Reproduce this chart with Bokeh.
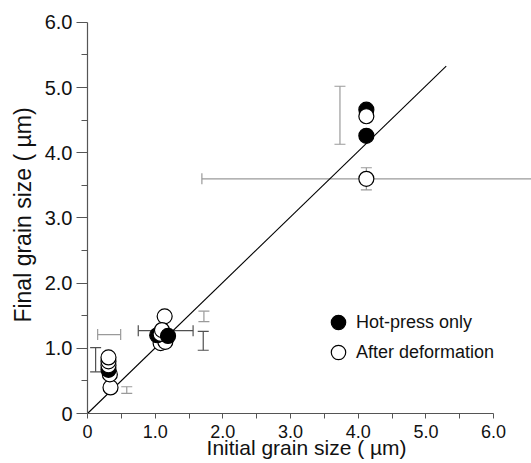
from bokeh.plotting import figure
from bokeh.models import (ColumnDataSource, Whisker, TeeHead, FixedTicker,
                          Legend, LegendItem, Range1d)
from bokeh.embed import file_html
from bokeh.resources import INLINE

# ---- data ----
# points, listed in drawing order (later ones cover earlier ones)
sample_x = [0.34, 0.33, 0.31, 0.31, 0.31, 0.31,
            1.14, 1.08, 1.15, 1.03, 1.08, 1.10, 1.19,
            4.12, 4.12, 4.12, 4.12]
sample_y = [0.40, 0.60, 0.67, 0.74, 0.80, 0.86,
            1.49, 1.08, 1.10, 1.20, 1.22, 1.28, 1.19,
            4.66, 4.56, 4.26, 3.60]
sample_kind = ["def", "def", "hot", "def", "def", "def",
               "def", "def", "def", "hot", "def", "def", "hot",
               "hot", "def", "hot", "def"]

fit_x = [0.0, 5.30]
fit_y = [0.0, 5.33]

# vertical error bars
vbar_x = [0.12, 0.58, 1.72, 1.71, 3.73, 4.12]
vbar_lo = [0.64, 0.31, 1.41, 0.97, 4.13, 3.43]
vbar_hi = [1.01, 0.41, 1.57, 1.26, 5.02, 3.77]
vbar_tone = ["dark", "gray", "gray", "dark", "gray", "gray"]

# horizontal error bars
hbar_y = [1.21, 1.27, 3.60]
hbar_lo = [0.15, 0.75, 1.69]
hbar_hi = [0.49, 1.56, 7.00]
hbar_tone = ["gray", "dark", "gray"]

x_ticks = [0, 1, 2, 3, 4, 5, 6]
x_tick_labels = ["0", "1.0", "2.0", "3.0", "4.0", "5.0", "6.0"]
y_ticks = [0, 1, 2, 3, 4, 5, 6]
y_tick_labels = ["0", "1.0", "2.0", "3.0", "4.0", "5.0", "6.0"]
minor = [0.5, 1.5, 2.5, 3.5, 4.5, 5.5]

legend_labels = ["Hot-press only", "After deformation"]

FONT = "Liberation Sans"
TONES = {"dark": "#505050", "gray": "#9a9a9a"}

p = figure(width=531, height=463, output_backend="svg", toolbar_location=None,
           x_range=Range1d(0, 6.56), y_range=Range1d(0, 6.09),
           min_border_left=87, min_border_right=0, min_border_top=16,
           min_border_bottom=50)
p.outline_line_color = None
p.xgrid.visible = False
p.ygrid.visible = False
p.background_fill_color = "white"
p.border_fill_color = "white"

# fit line
p.line(fit_x, fit_y, line_color="black", line_width=1.1)

# error bars
for tone, col in TONES.items():
    idx = [i for i, t in enumerate(vbar_tone) if t == tone]
    if idx:
        src = ColumnDataSource(dict(base=[vbar_x[i] for i in idx],
                                    lower=[vbar_lo[i] for i in idx],
                                    upper=[vbar_hi[i] for i in idx]))
        p.add_layout(Whisker(source=src, base="base", lower="lower", upper="upper",
                             dimension="height", line_color=col, line_width=1.2,
                             lower_head=TeeHead(size=11, line_color=col, line_width=1.2),
                             upper_head=TeeHead(size=11, line_color=col, line_width=1.2)))
    idx = [i for i, t in enumerate(hbar_tone) if t == tone]
    if idx:
        src = ColumnDataSource(dict(base=[hbar_y[i] for i in idx],
                                    lower=[hbar_lo[i] for i in idx],
                                    upper=[hbar_hi[i] for i in idx]))
        p.add_layout(Whisker(source=src, base="base", lower="lower", upper="upper",
                             dimension="width", line_color=col, line_width=1.2,
                             lower_head=TeeHead(size=11, line_color=col, line_width=1.2),
                             upper_head=TeeHead(size=11, line_color=col, line_width=1.2)))

# points
fills = ["black" if k == "hot" else "white" for k in sample_kind]
pts = ColumnDataSource(dict(x=sample_x, y=sample_y, fill=fills))
r = p.scatter("x", "y", source=pts, size=15, fill_color="fill",
              line_color="black", line_width=1.2)

# two single-entry legends (so the rows can sit close together)
for label, kind, vy in ((legend_labels[0], "hot", 72), (legend_labels[1], "def", 42)):
    lg = Legend(items=[LegendItem(label=label, renderers=[r],
                                  index=sample_kind.index(kind))],
                location=(233, vy), glyph_width=36, glyph_height=38,
                label_standoff=0, padding=0, margin=0, border_line_color=None,
                background_fill_alpha=0, label_text_font=FONT,
                label_text_font_size="18px", label_text_color="#111111")
    p.add_layout(lg)

# axes
for ax, ticks, labels in ((p.xaxis[0], x_ticks, x_tick_labels),
                          (p.yaxis[0], y_ticks, y_tick_labels)):
    ax.ticker = FixedTicker(ticks=ticks, minor_ticks=minor)
    ax.major_label_overrides = {t: l for t, l in zip(ticks, labels)}
    ax.bounds = (0, 6)
    ax.axis_line_color = "#555555"
    ax.axis_line_width = 1.2
    ax.major_tick_line_color = "#555555"
    ax.minor_tick_line_color = "#555555"
    ax.major_tick_in = 0
    ax.minor_tick_in = 0
    ax.major_label_text_font = FONT
    ax.major_label_text_color = "#111111"
    ax.axis_label_text_font = FONT
    ax.axis_label_text_font_style = "normal"
    ax.axis_label_text_color = "#111111"

p.xaxis.major_tick_out = 5
p.xaxis.minor_tick_out = 5
p.xaxis.major_label_text_font_size = "18px"
p.xaxis.major_label_standoff = 6
p.xaxis.axis_label = "Initial grain size  ( µm)"
p.xaxis.axis_label_text_font_size = "21px"
p.xaxis.axis_label_standoff = -5

p.yaxis.major_tick_out = 11
p.yaxis.minor_tick_out = 6
p.yaxis.major_label_text_font_size = "20px"
p.yaxis.major_label_standoff = 4
p.yaxis.axis_label = "Final grain size ( µm)"
p.yaxis.axis_label_text_font_size = "23px"
p.yaxis.axis_label_standoff = 6

open("out.html", "w").write(file_html(p, INLINE))
